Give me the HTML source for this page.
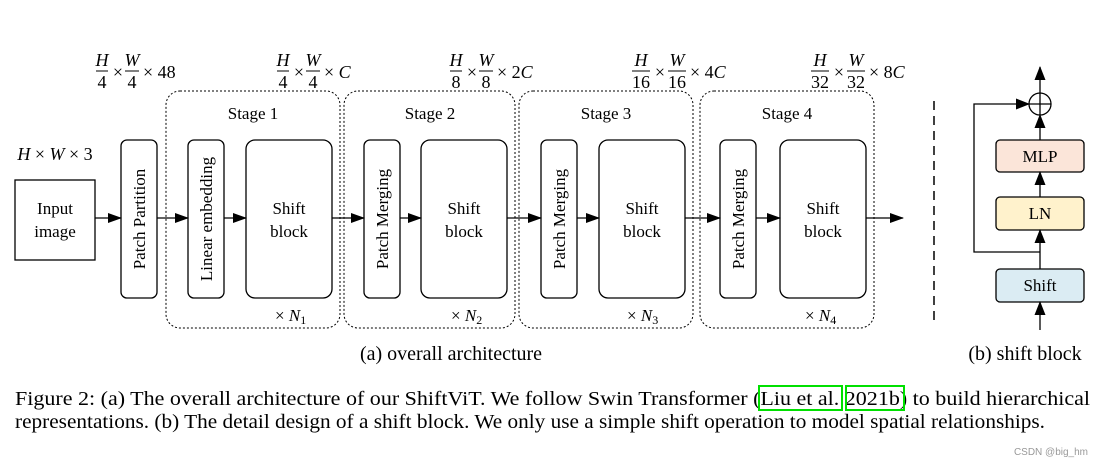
<!DOCTYPE html>
<html><head><meta charset="utf-8"><style>
html,body{margin:0;padding:0;background:#fff;}
svg{display:block;font-family:"Liberation Serif",serif;}
.m{font-family:"Liberation Serif",serif;font-size:18px;}
.i{font-style:italic;}
</style></head><body>
<svg width="1100" height="466" viewBox="0 0 1100 466" xmlns="http://www.w3.org/2000/svg">
<defs>
<marker id="a" markerWidth="14" markerHeight="10" refX="13" refY="5" orient="auto" markerUnits="userSpaceOnUse"><path d="M0,0 L14,5 L0,10 z" fill="#000"/></marker>
<marker id="u" markerWidth="14" markerHeight="11" refX="13" refY="5.5" orient="auto" markerUnits="userSpaceOnUse"><path d="M0,0 L14,5.5 L0,11 z" fill="#000"/></marker>
</defs>
<g class="m" text-anchor="middle">
<text x="102" y="66" class="i">H</text><line x1="96" y1="71" x2="108" y2="71" stroke="#000"/><text x="102" y="88">4</text>
<text x="118" y="78">×</text>
<text x="132" y="66" class="i">W</text><line x1="125" y1="71" x2="139" y2="71" stroke="#000"/><text x="132" y="88">4</text>
<text x="143" y="78" text-anchor="start">× 48</text>
<text x="283" y="66" class="i">H</text><line x1="277" y1="71" x2="289" y2="71" stroke="#000"/><text x="283" y="88">4</text>
<text x="299" y="78">×</text>
<text x="313" y="66" class="i">W</text><line x1="306" y1="71" x2="320" y2="71" stroke="#000"/><text x="313" y="88">4</text>
<text x="324" y="78" text-anchor="start">× <tspan class="i">C</tspan></text>
<text x="456" y="66" class="i">H</text><line x1="450" y1="71" x2="462" y2="71" stroke="#000"/><text x="456" y="88">8</text>
<text x="472" y="78">×</text>
<text x="486" y="66" class="i">W</text><line x1="479" y1="71" x2="493" y2="71" stroke="#000"/><text x="486" y="88">8</text>
<text x="497" y="78" text-anchor="start">× 2<tspan class="i">C</tspan></text>
<text x="641" y="66" class="i">H</text><line x1="632" y1="71" x2="650" y2="71" stroke="#000"/><text x="641" y="88">16</text>
<text x="660" y="78">×</text>
<text x="677" y="66" class="i">W</text><line x1="668" y1="71" x2="686" y2="71" stroke="#000"/><text x="677" y="88">16</text>
<text x="690" y="78" text-anchor="start">× 4<tspan class="i">C</tspan></text>
<text x="820" y="66" class="i">H</text><line x1="811" y1="71" x2="829" y2="71" stroke="#000"/><text x="820" y="88">32</text>
<text x="839" y="78">×</text>
<text x="856" y="66" class="i">W</text><line x1="847" y1="71" x2="865" y2="71" stroke="#000"/><text x="856" y="88">32</text>
<text x="869" y="78" text-anchor="start">× 8<tspan class="i">C</tspan></text>
<text x="55" y="160"><tspan class="i">H</tspan> × <tspan class="i">W</tspan> × 3</text>
</g>
<g fill="none" stroke="#000" stroke-width="1" stroke-dasharray="2,2">
<rect x="166" y="91" width="174" height="237" rx="14"/>
<rect x="344" y="91" width="171" height="237" rx="14"/>
<rect x="519" y="91" width="174" height="237" rx="14"/>
<rect x="700" y="91" width="174" height="237" rx="14"/>
</g>
<g fill="#fff" stroke="#000" stroke-width="1.3">
<rect x="15" y="180" width="80" height="80"/>
<rect x="121" y="140" width="36" height="158" rx="6"/>
<rect x="188" y="140" width="36" height="158" rx="6"/>
<rect x="246" y="140" width="86" height="158" rx="9"/>
<rect x="364" y="140" width="36" height="158" rx="6"/>
<rect x="421" y="140" width="86" height="158" rx="9"/>
<rect x="541" y="140" width="36" height="158" rx="6"/>
<rect x="599" y="140" width="86" height="158" rx="9"/>
<rect x="720" y="140" width="36" height="158" rx="6"/>
<rect x="780" y="140" width="86" height="158" rx="9"/>
</g>
<g stroke="#000" stroke-width="1.3" marker-end="url(#a)">
<line x1="95" y1="218" x2="121" y2="218"/>
<line x1="157" y1="218" x2="188" y2="218"/>
<line x1="224" y1="218" x2="246" y2="218"/>
<line x1="332" y1="218" x2="364" y2="218"/>
<line x1="400" y1="218" x2="421" y2="218"/>
<line x1="507" y1="218" x2="541" y2="218"/>
<line x1="577" y1="218" x2="599" y2="218"/>
<line x1="685" y1="218" x2="720" y2="218"/>
<line x1="756" y1="218" x2="780" y2="218"/>
<line x1="866" y1="218" x2="903" y2="218"/>
</g>
<g font-size="17" text-anchor="middle" fill="#000">
<text x="55" y="214">Input</text><text x="55" y="237">image</text>
<text x="253" y="119">Stage 1</text><text x="430" y="119">Stage 2</text><text x="606" y="119">Stage 3</text><text x="787" y="119">Stage 4</text>
<text x="289" y="214">Shift</text><text x="289" y="237">block</text>
<text x="464" y="214">Shift</text><text x="464" y="237">block</text>
<text x="642" y="214">Shift</text><text x="642" y="237">block</text>
<text x="823" y="214">Shift</text><text x="823" y="237">block</text>
<text transform="translate(145,219) rotate(-90)">Patch Partition</text>
<text transform="translate(212,219) rotate(-90)">Linear embedding</text>
<text transform="translate(388,219) rotate(-90)">Patch Merging</text>
<text transform="translate(565,219) rotate(-90)">Patch Merging</text>
<text transform="translate(744,219) rotate(-90)">Patch Merging</text>
</g>
<g font-size="17" fill="#000">
<text x="275" y="321">× <tspan font-style="italic">N</tspan><tspan font-size="12" dy="3">1</tspan></text>
<text x="451" y="321">× <tspan font-style="italic">N</tspan><tspan font-size="12" dy="3">2</tspan></text>
<text x="627" y="321">× <tspan font-style="italic">N</tspan><tspan font-size="12" dy="3">3</tspan></text>
<text x="805" y="321">× <tspan font-style="italic">N</tspan><tspan font-size="12" dy="3">4</tspan></text>
</g>
<line x1="934" y1="101" x2="934" y2="322" stroke="#000" stroke-width="1.5" stroke-dasharray="9,6"/>
<g stroke="#000" stroke-width="1.3">
<rect x="996" y="140" width="88" height="32" rx="4" fill="#fbe5d9"/>
<rect x="996" y="197" width="88" height="33" rx="4" fill="#fff2cc"/>
<rect x="996" y="269" width="88" height="33" rx="4" fill="#dbecf3"/>
<circle cx="1040" cy="104" r="11" fill="#fff"/>
<line x1="1029" y1="104" x2="1051" y2="104"/><line x1="1040" y1="93" x2="1040" y2="115"/>
<g marker-end="url(#u)" fill="none">
<line x1="1040" y1="330" x2="1040" y2="302"/>
<line x1="1040" y1="269" x2="1040" y2="230"/>
<line x1="1040" y1="197" x2="1040" y2="172"/>
<line x1="1040" y1="140" x2="1040" y2="115"/>
<line x1="1040" y1="93" x2="1040" y2="67"/>
<polyline points="1040,252 974,252 974,104 1029,104"/>
</g>
</g>
<g font-size="17" text-anchor="middle" fill="#000">
<text x="1040" y="162">MLP</text><text x="1040" y="219">LN</text><text x="1040" y="291">Shift</text>
</g>
<g font-size="20" text-anchor="middle" fill="#000">
<text x="451" y="360">(a) overall architecture</text>
<text x="1025" y="360">(b) shift block</text>
</g>
<g font-size="20" fill="#000">
<text x="15" y="405" textLength="1075" lengthAdjust="spacingAndGlyphs">Figure 2: (a) The overall architecture of our ShiftViT. We follow Swin Transformer (Liu et al. 2021b) to build hierarchical</text>
<text x="15" y="428" textLength="1030" lengthAdjust="spacingAndGlyphs">representations. (b) The detail design of a shift block. We only use a simple shift operation to model spatial relationships.</text>
</g>
<rect x="759" y="386" width="83" height="24" fill="none" stroke="#00e000" stroke-width="2"/>
<rect x="846" y="386" width="58" height="24" fill="none" stroke="#00e000" stroke-width="2"/>
<text x="1088" y="455" font-family="Liberation Sans,sans-serif" font-size="10" fill="#999" text-anchor="end">CSDN @big_hm</text>
</svg>
</body></html>
